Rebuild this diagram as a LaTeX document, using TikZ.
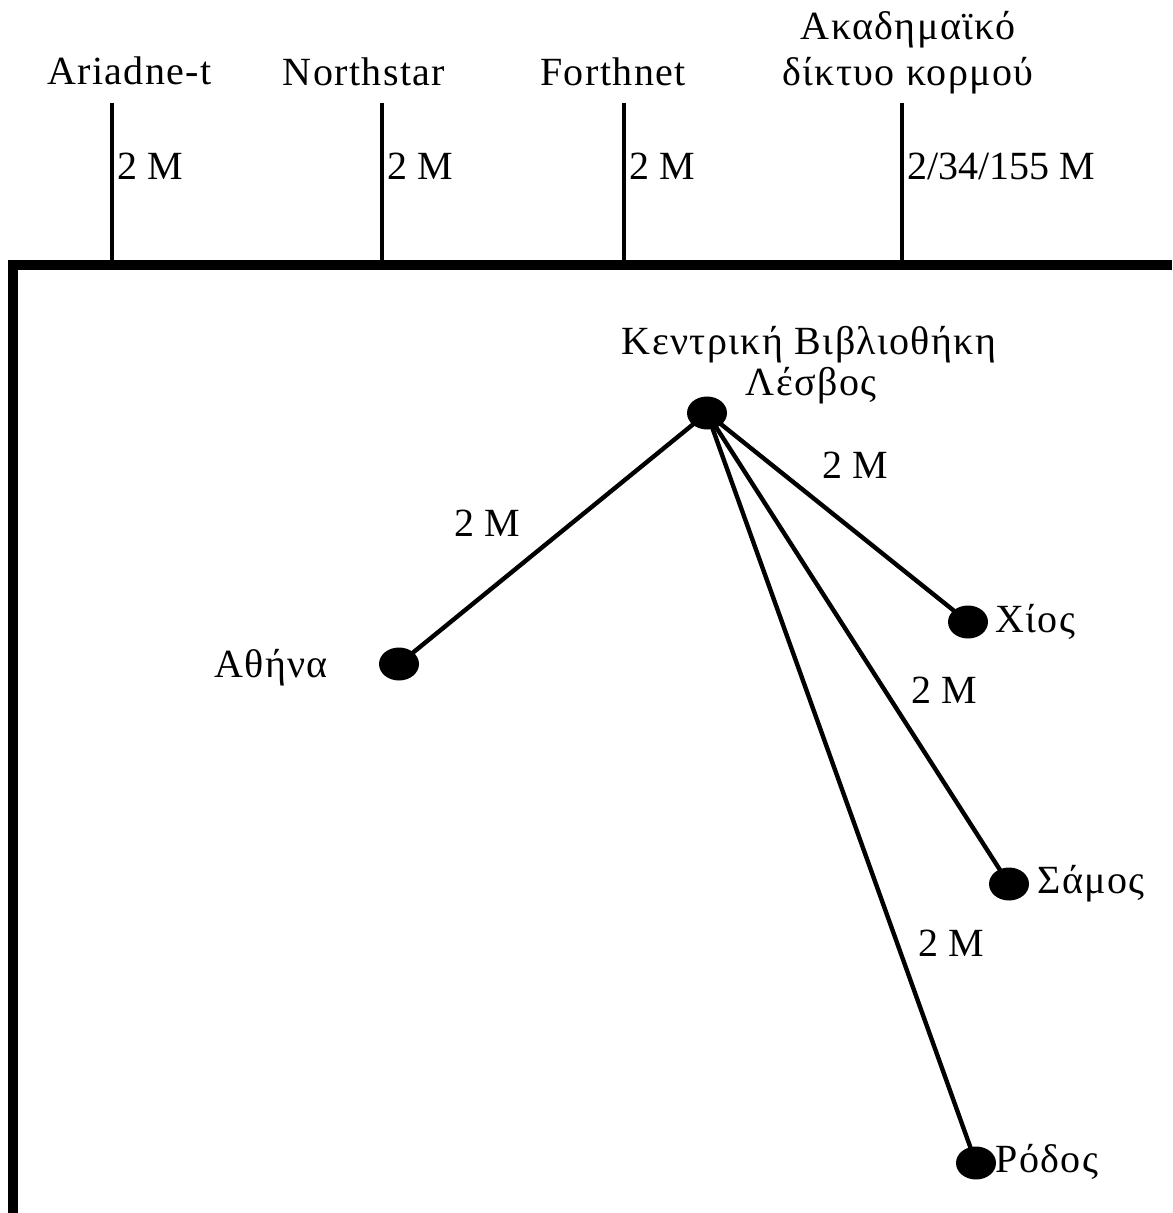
\documentclass[tikz,border=0pt]{standalone}
\usepackage{fontspec}
\setmainfont{Liberation Serif}
\newfontfamily\spaced[LetterSpace=3.5]{Liberation Serif}
\usetikzlibrary{shapes.geometric}
\begin{document}
\begin{tikzpicture}[x=0.5pt,y=-0.5pt,
  lbl/.style={inner sep=0pt,font=\fontsize{20}{24}\selectfont},
  txt/.style={inner sep=0pt,font=\fontsize{20}{24}\selectfont\spaced},
  dot/.style={ellipse,fill=black,minimum width=20pt,minimum height=16.5pt,inner sep=0pt},
  link/.style={line width=2.2pt},
  frame/.style={line width=4.6pt,line join=miter}]
\useasboundingbox (0,0) rectangle (1172,1213);
% frame
\coordinate (fbl) at (13,1213);
\coordinate (fc) at (13,265);
\coordinate (ftr) at (1172,265);
\draw[frame] (fbl) -- (fc) -- (ftr);
% uplinks
\foreach \n/\x in {a/112,n/382,f/624,g/902}{
  \coordinate (t\n) at (\x,103);
  \coordinate (b\n) at (\x,265);
  \draw[link] (t\n) -- (b\n);
}
\node[txt,anchor=base] (lariadne) at (129.5,85) {Ariadne-t};
\node[txt,anchor=base] (lnorth) at (364,86) {Northstar};
\node[txt,anchor=base] (lforth) at (613,86) {Forthnet};
\node[txt,anchor=base] (lgr1) at (908,40) {Ακαδημαϊκό};
\node[txt,anchor=base] (lgr2) at (908,86) {δίκτυο κορμού};
\node[lbl,anchor=base west] (sa) at (117,180) {2 M};
\node[lbl,anchor=base west] (sn) at (387,180) {2 M};
\node[lbl,anchor=base west] (sf) at (629,180) {2 M};
\node[lbl,anchor=base west] (sg) at (907,180) {2/34/155 M};
% network
\coordinate (clesvos) at (707,413);
\coordinate (cathens) at (399,664);
\coordinate (cchios) at (968,622);
\coordinate (csamos) at (1009,884);
\coordinate (crodos) at (976,1163);
\draw[link] (clesvos) -- (cathens);
\draw[link] (clesvos) -- (cchios);
\draw[link] (clesvos) -- (csamos);
\draw[link] (clesvos) -- (crodos);
\node[dot] (lesvos) at (clesvos) {};
\node[dot] (athens) at (cathens) {};
\node[dot] (chios) at (cchios) {};
\node[dot] (samos) at (csamos) {};
\node[dot] (rodos) at (crodos) {};
\node[txt,anchor=base] (llib1) at (809,355) {Κεντρική Βιβλιοθήκη};
\node[txt,anchor=base] (llib2) at (811,395) {Λέσβος};
\node[txt,anchor=base] (lath) at (271,677) {Αθήνα};
\node[txt,anchor=base west] (lchi) at (995,632) {Χίος};
\node[txt,anchor=base west] (lsam) at (1037,893) {Σάμος};
\node[txt,anchor=base west] (lrod) at (995,1172) {Ρόδος};
\node[lbl,anchor=base] (eath) at (487,536) {2 M};
\node[lbl,anchor=base] (echi) at (855,478) {2 M};
\node[lbl,anchor=base] (esam) at (944,703) {2 M};
\node[lbl,anchor=base] (erod) at (951,956) {2 M};
\end{tikzpicture}
\end{document}
